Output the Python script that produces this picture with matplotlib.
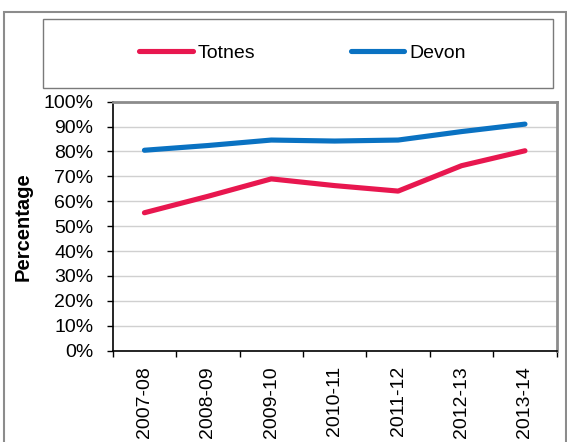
import matplotlib
matplotlib.use("Agg")
import matplotlib.pyplot as plt
from matplotlib.patches import Rectangle
from matplotlib.ticker import FixedLocator, PercentFormatter

plt.rcParams["font.family"] = ["Liberation Sans", "DejaVu Sans"]

# data
years = ["2007-08", "2008-09", "2009-10", "2010-11", "2011-12", "2012-13", "2013-14"]
totnes = [55.4, 62.0, 69.0, 66.3, 64.1, 74.3, 80.3]
devon = [80.5, 82.4, 84.6, 84.2, 84.6, 88.0, 91.0]

RED = "#e8174f"
BLUE = "#0a72c2"
GREY = "#8c8c8c"

fig = plt.figure(figsize=(5.67, 4.42), dpi=100)

# outer chart frame and legend box
fig.add_artist(Rectangle((0.007, -0.02), 0.991, 0.997 - 0.005, transform=fig.transFigure,
                         fill=False, edgecolor=GREY, linewidth=1.5))
fig.add_artist(Rectangle((0.0753, 0.801), 0.900, 0.156, transform=fig.transFigure,
                         fill=False, edgecolor="#7a7a7a", linewidth=1.0))

ax = fig.add_axes([0.1988, 0.2066, 0.783, 0.5633])

x = range(len(years))
ax.plot(x, totnes, color=RED, linewidth=3.7, solid_capstyle="round", label="Totnes")
ax.plot(x, devon, color=BLUE, linewidth=3.7, solid_capstyle="round", label="Devon")

ax.set_xlim(-0.5, len(years) - 0.5)
ax.set_ylim(0, 100)
ax.yaxis.set_major_locator(FixedLocator(range(0, 101, 10)))
ax.yaxis.set_major_formatter(PercentFormatter(decimals=0))
ax.grid(axis="y", color="#d0d0d0", linewidth=1.0)
ax.set_axisbelow(True)

ax.set_xticks(list(x))
ax.set_xticklabels(years, rotation=90, fontsize=14)
ax.set_xticks([i - 0.5 for i in range(len(years) + 1)], minor=True)
ax.tick_params(axis="x", which="major", length=0, pad=11)
ax.tick_params(axis="x", which="minor", length=4, width=1, direction="out")
ax.tick_params(axis="y", length=4, width=1, labelsize=14, pad=10)

for side in ("top", "right"):
    ax.spines[side].set_color(GREY)
    ax.spines[side].set_linewidth(2)
for side in ("left", "bottom"):
    ax.spines[side].set_color("black")
    ax.spines[side].set_linewidth(1.2)

ax.set_ylabel("Percentage", fontsize=14.5, fontweight="bold")
ax.yaxis.set_label_coords(-0.18, 0.5)

handles, labels = ax.get_legend_handles_labels()
fig.legend(handles, labels, loc="center", bbox_to_anchor=(0.5335, 0.88), ncol=2,
           frameon=False, fontsize=14, handlelength=2.75, handletextpad=0.25,
           columnspacing=4.9)

fig.savefig("out.png", dpi=100)
